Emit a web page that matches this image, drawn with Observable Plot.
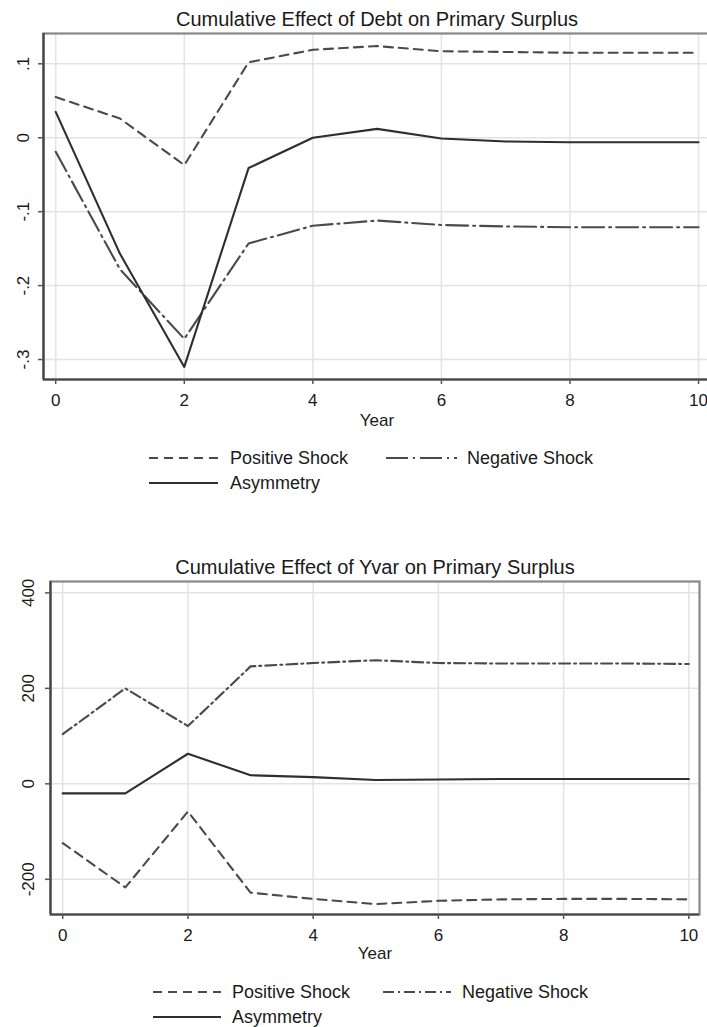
<!DOCTYPE html>
<html>
<head>
<meta charset="utf-8">
<script src="https://cdn.jsdelivr.net/npm/d3@7"></script>
<script src="https://cdn.jsdelivr.net/npm/@observablehq/plot@0.6"></script>
<style>
  html, body { margin: 0; padding: 0; background: #fff; }
  #root { position: relative; width: 707px; height: 1027px; overflow: hidden; font-family: 'Liberation Sans', Arial, Helvetica, sans-serif; color: #1a1a1a; }
  .abs { position: absolute; white-space: nowrap; line-height: 1; }
  .plotwrap { position: absolute; left: 0; }
  .plotwrap svg { display: block; }
</style>
</head>
<body>
<div id="root"></div>
<script>
// ---------- data ----------
const years = [0, 1, 2, 3, 4, 5, 6, 7, 8, 9, 10];
const xTicks = [0, 2, 4, 6, 8, 10];

// Panel 1: Cumulative Effect of Debt on Primary Surplus
const debtPositive = [0.055, 0.026, -0.037, 0.102, 0.119, 0.124, 0.117, 0.116, 0.115, 0.115, 0.115];
const debtNegative = [-0.019, -0.178, -0.272, -0.143, -0.119, -0.112, -0.118, -0.120, -0.121, -0.121, -0.121];
const debtAsymmetry = [0.035, -0.157, -0.310, -0.041, 0.000, 0.012, -0.001, -0.005, -0.006, -0.006, -0.006];
const debtYTicks = [0.1, 0, -0.1, -0.2, -0.3];
const debtYTickLabels = [".1", "0", "-.1", "-.2", "-.3"];

// Panel 2: Cumulative Effect of Yvar on Primary Surplus
const yvarPositive = [-124, -217, -58, -228, -241, -252, -245, -242, -241, -241, -242];
const yvarNegative = [104, 200, 121, 246, 253, 259, 253, 252, 252, 252, 251];
const yvarAsymmetry = [-20, -20, 63, 18, 14, 8, 9, 10, 10, 10, 10];
const yvarYTicks = [400, 200, 0, -200];
const yvarYTickLabels = ["400", "200", "0", "-200"];

const titles = ["Cumulative Effect of Debt on Primary Surplus", "Cumulative Effect of Yvar on Primary Surplus"];
const xLabel = "Year";
const seriesNames = ["Positive Shock", "Negative Shock", "Asymmetry"];

// ---------- helpers ----------
const FONT = "'Liberation Sans', Arial, Helvetica, sans-serif";
const DASH_COLOR = "#4a4a4a";
const SOLID_COLOR = "#2e2e2e";
const LW = 2.1;
const root = document.getElementById("root");

function addText(txt, x, y, size, anchor) {
  const d = document.createElement("div");
  d.className = "abs";
  d.textContent = txt;
  d.style.left = x + "px";
  d.style.top = y + "px";
  d.style.fontSize = size + "px";
  d.style.transform = anchor === "start" ? "translate(0,-50%)" : "translate(-50%,-50%)";
  root.appendChild(d);
}

function addSample(x1, x2, y, dash, color) {
  const ns = "http://www.w3.org/2000/svg";
  const s = document.createElementNS(ns, "svg");
  s.setAttribute("width", x2 - x1);
  s.setAttribute("height", 6);
  s.style.position = "absolute";
  s.style.left = x1 + "px";
  s.style.top = (y - 3) + "px";
  const l = document.createElementNS(ns, "line");
  l.setAttribute("x1", 0); l.setAttribute("x2", x2 - x1);
  l.setAttribute("y1", 3); l.setAttribute("y2", 3);
  l.setAttribute("stroke", color);
  l.setAttribute("stroke-width", LW);
  if (dash) l.setAttribute("stroke-dasharray", dash);
  s.appendChild(l);
  root.appendChild(s);
}

function makePanel(cfg) {
  const rows = (arr, name) => years.map((yr, i) => ({year: yr, value: arr[i], series: name}));
  const chart = Plot.plot({
    width: 707,
    height: cfg.height,
    marginTop: cfg.marginTop,
    marginBottom: cfg.marginBottom,
    marginLeft: cfg.marginLeft,
    marginRight: cfg.marginRight,
    style: {fontFamily: FONT, fontSize: "17px", color: "#1a1a1a", background: "transparent"},
    x: {domain: cfg.xDomain},
    y: {domain: cfg.yDomain},
    marks: [
      Plot.gridX(xTicks, {stroke: "#e3e3e3", strokeOpacity: 1, strokeWidth: 1.5}),
      Plot.gridY(cfg.yTicks, {stroke: "#e3e3e3", strokeOpacity: 1, strokeWidth: 1.5}),
      Plot.frame({stroke: "#888", strokeWidth: 2.2}),
      Plot.ruleX([cfg.xDomain[0]], {stroke: "#444", strokeWidth: 2.2}),
      Plot.ruleY([cfg.yDomain[0]], {stroke: "#444", strokeWidth: 2.2}),
      Plot.axisX(xTicks, {tickSize: 5, tickPadding: 9, fontSize: 17, label: null, stroke: "#555", strokeWidth: 1.5, fill: "#1a1a1a"}),
      Plot.axisY(cfg.yTicks, {tickSize: 5, tickFormat: () => "", label: null, stroke: "#555", strokeWidth: 1.5}),
      Plot.text(cfg.yTicks, {
        y: d => d,
        text: (d, i) => cfg.yTickLabels[i],
        frameAnchor: "left",
        dx: cfg.labelDx,
        rotate: -90,
        textAnchor: "middle",
        lineAnchor: "middle",
        fontSize: 17,
        fill: "#1a1a1a"
      }),
      Plot.line(rows(cfg.pos, seriesNames[0]), {x: "year", y: "value", stroke: DASH_COLOR, strokeWidth: LW, strokeDasharray: cfg.posDash}),
      Plot.line(rows(cfg.neg, seriesNames[1]), {x: "year", y: "value", stroke: DASH_COLOR, strokeWidth: LW, strokeDasharray: cfg.negDash}),
      Plot.line(rows(cfg.asym, seriesNames[2]), {x: "year", y: "value", stroke: SOLID_COLOR, strokeWidth: LW})
    ]
  });
  const wrap = document.createElement("div");
  wrap.className = "plotwrap";
  wrap.style.top = cfg.top + "px";
  wrap.appendChild(chart);
  root.appendChild(wrap);
}

// ---------- panel 1 ----------
makePanel({
  top: 0, height: 430, marginTop: 33, marginBottom: 51, marginLeft: 43, marginRight: -2,
  xDomain: [-0.19, 10.17], yDomain: [-0.327, 0.141],
  yTicks: debtYTicks, yTickLabels: debtYTickLabels, labelDx: -20,
  pos: debtPositive, neg: debtNegative, asym: debtAsymmetry,
  posDash: "9,6", negDash: "22,5,2,5"
});
addText(titles[0], 377, 19, 20, "middle");
addText(xLabel, 377, 420, 17, "middle");
addSample(149, 218, 458, "9,6", DASH_COLOR);
addText(seriesNames[0], 230, 458, 18, "start");
addSample(386, 457, 458, "22,5,2,5", DASH_COLOR);
addText(seriesNames[1], 467, 458, 18, "start");
addSample(149, 218, 483, null, SOLID_COLOR);
addText(seriesNames[2], 230, 483, 18, "start");

// ---------- panel 2 ----------
makePanel({
  top: 540, height: 425, marginTop: 41, marginBottom: 51, marginLeft: 50, marginRight: 8,
  xDomain: [-0.195, 10.17], yDomain: [-273.7, 423.8],
  yTicks: yvarYTicks, yTickLabels: yvarYTickLabels, labelDx: -22,
  pos: yvarPositive, neg: yvarNegative, asym: yvarAsymmetry,
  posDash: "9,6", negDash: "11,4,2,4"
});
addText(titles[1], 375, 567, 20, "middle");
addText(xLabel, 375, 953, 17, "middle");
addSample(153, 221, 992, "9,6", DASH_COLOR);
addText(seriesNames[0], 232, 992, 18, "start");
addSample(383, 451, 992, "11,4,2,4", DASH_COLOR);
addText(seriesNames[1], 462, 992, 18, "start");
addSample(153, 221, 1017, null, SOLID_COLOR);
addText(seriesNames[2], 232, 1017, 18, "start");
</script>
</body>
</html>
